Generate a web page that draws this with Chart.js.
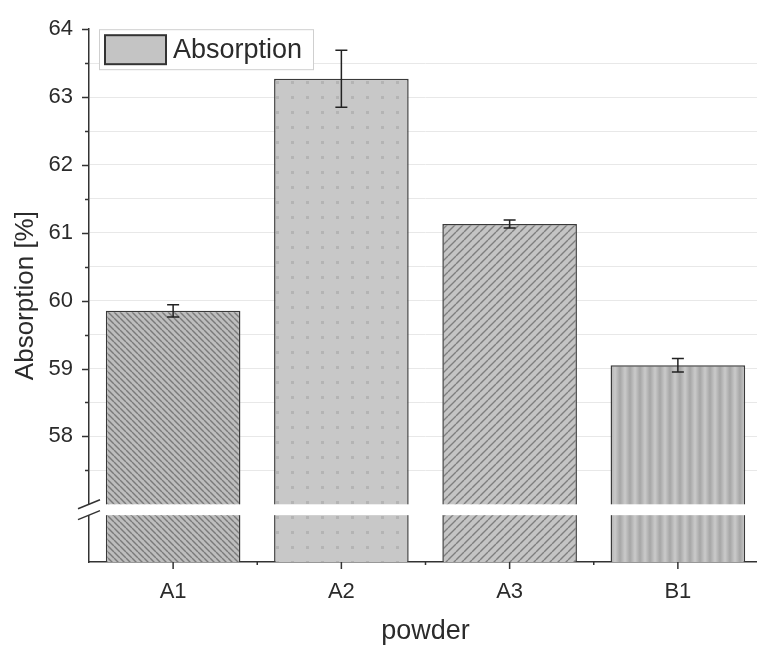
<!DOCTYPE html>
<html lang="en">
<head>
<meta charset="UTF-8">
<title>Absorption by powder</title>
<script src="https://cdn.jsdelivr.net/npm/chart.js"></script>
<style>
  html, body { margin: 0; padding: 0; overflow: hidden; background: #fff; }
  canvas { display: block; }
</style>
</head>
<body>
<canvas id="absorptionChart" width="762" height="651"></canvas>
<script>
  // Absorption per powder with its standard deviation
  const powders = ['A1', 'A2', 'A3', 'B1'];
  const absorption = [59.85, 63.27, 61.13, 59.05];
  const absorptionErr = [0.09, 0.42, 0.06, 0.10];

  // y axis: labelled at whole numbers, minor ticks at the halves
  const yTicks = [57.5, 58, 58.5, 59, 59.5, 60, 60.5, 61, 61.5, 62, 62.5, 63, 63.5, 64];
  const yRange = [56.15, 64];
  // axis break drawn between these two values
  const axisBreak = [56.84, 57.0];

  const FONT = '"Liberation Sans", Arial, sans-serif';
  const TEXT = '#2b2b2b';

  // fill patterns, one per bar
  function pattern(size, bg, draw) {
    const c = document.createElement('canvas');
    c.width = size; c.height = size;
    const g = c.getContext('2d');
    g.fillStyle = bg;
    g.fillRect(0, 0, size, size);
    draw(g, size);
    return c;
  }
  function diagonal(size, bg, fg, back) {
    return pattern(size, bg, (g, s) => {
      g.strokeStyle = fg;
      g.lineWidth = 1.4;
      g.beginPath();
      for (const o of [-s, 0, s]) {
        if (back) { g.moveTo(o, 0); g.lineTo(o + s, s); }
        else { g.moveTo(o, s); g.lineTo(o + s, 0); }
      }
      g.stroke();
    });
  }
  const tileA1 = diagonal(6, '#bdbdbd', '#7a7a7a', true);
  const tileA2 = pattern(15, '#c8c8c8', (g) => {
    g.fillStyle = '#b4b4b4';
    g.fillRect(6, 6, 3, 3);
  });
  const tileA3 = diagonal(8, '#c4c4c4', '#7e7e7e', false);
  const tileB1 = pattern(10, '#b5b5b5', (g, s) => {
    const grad = g.createLinearGradient(0, 0, s, 0);
    grad.addColorStop(0, '#a6a6a6');
    grad.addColorStop(0.5, '#cacaca');
    grad.addColorStop(1, '#a6a6a6');
    g.fillStyle = grad;
    g.fillRect(0, 0, s, s);
  });

  const ctx = document.getElementById('absorptionChart').getContext('2d');
  const fills = [tileA1, tileA2, tileA3, tileB1].map(t => ctx.createPattern(t, 'repeat'));

  // error bars, tick marks, axis break and the framed legend
  const extras = {
    id: 'extras',
    afterDatasetsDraw(chart) {
      const { ctx, scales: { y } } = chart;
      const meta = chart.getDatasetMeta(0);
      ctx.save();
      ctx.strokeStyle = '#222';
      ctx.lineWidth = 1.5;
      meta.data.forEach((bar, i) => {
        const cx = bar.x;
        const top = y.getPixelForValue(absorption[i] + absorptionErr[i]);
        const bot = y.getPixelForValue(absorption[i] - absorptionErr[i]);
        ctx.beginPath();
        ctx.moveTo(cx, top); ctx.lineTo(cx, bot);
        ctx.moveTo(cx - 6, top); ctx.lineTo(cx + 6, top);
        ctx.moveTo(cx - 6, bot); ctx.lineTo(cx + 6, bot);
        ctx.stroke();
      });
      ctx.restore();
    },
    afterDraw(chart) {
      const { ctx, chartArea: a, scales: { x, y } } = chart;
      ctx.save();
      ctx.strokeStyle = '#333';
      ctx.lineWidth = 1.5;
      ctx.beginPath();
      yTicks.forEach(v => {
        const py = Math.round(y.getPixelForValue(v)) + 0.5;
        const len = Number.isInteger(v) ? 7 : 4;
        ctx.moveTo(a.left, py); ctx.lineTo(a.left - len, py);
      });
      powders.forEach((p, i) => {
        const px = x.getPixelForValue(i);
        ctx.moveTo(px, a.bottom); ctx.lineTo(px, a.bottom + 7);
        if (i > 0) {
          const bx = (px + x.getPixelForValue(i - 1)) / 2;
          ctx.moveTo(bx, a.bottom); ctx.lineTo(bx, a.bottom + 3);
        }
      });
      ctx.stroke();

      // axis break
      const b0 = y.getPixelForValue(axisBreak[1]);
      const b1 = y.getPixelForValue(axisBreak[0]);
      ctx.fillStyle = '#fff';
      ctx.fillRect(a.left - 3, b0, a.right - a.left + 3, b1 - b0);
      ctx.beginPath();
      [b0, b1].forEach(by => {
        ctx.moveTo(a.left - 11, by + 4.5);
        ctx.lineTo(a.left + 11, by - 4.5);
      });
      ctx.stroke();

      // legend
      const lx = a.left + 10, ly = a.top, lw = 214, lh = 40;
      ctx.fillStyle = '#fff';
      ctx.fillRect(lx, ly, lw, lh);
      ctx.strokeStyle = '#cfcfcf';
      ctx.lineWidth = 1;
      ctx.strokeRect(lx + 0.5, ly + 0.5, lw, lh);
      ctx.fillStyle = '#c4c4c4';
      ctx.fillRect(lx + 6, ly + 6, 61, 29);
      ctx.strokeStyle = '#333';
      ctx.lineWidth = 2;
      ctx.strokeRect(lx + 6, ly + 6, 61, 29);
      ctx.fillStyle = TEXT;
      ctx.font = '27px ' + FONT;
      ctx.textBaseline = 'middle';
      ctx.fillText(chart.data.datasets[0].label, lx + 74, ly + lh / 2 + 1);
      ctx.restore();
    }
  };

  new Chart(ctx, {
    type: 'bar',
    data: {
      labels: powders,
      datasets: [{
        label: 'Absorption',
        data: absorption,
        backgroundColor: fills,
        borderColor: '#3a3a3a',
        borderWidth: 1.5,
        categoryPercentage: 1,
        barPercentage: 0.8
      }]
    },
    options: {
      responsive: false,
      animation: false,
      layout: { padding: { top: 20, right: 0, left: 0, bottom: 0 } },
      plugins: { legend: { display: false }, tooltip: { enabled: false } },
      scales: {
        x: {
          grid: { display: false, drawTicks: false },
          border: { display: true, color: '#333', width: 1.5 },
          ticks: { color: TEXT, padding: 17, font: { family: FONT, size: 22 } },
          title: { display: true, text: 'powder', color: TEXT, padding: { top: 0, bottom: 3 }, font: { family: FONT, size: 27 } },
          afterFit(s) { s.height = 89; }
        },
        y: {
          min: yRange[0],
          max: yRange[1],
          afterBuildTicks(s) { s.ticks = yTicks.map(v => ({ value: v })); },
          grid: {
            drawTicks: false,
            color: c => (c.tick && c.tick.value === 64) ? 'rgba(0,0,0,0)' : '#e8e8e8',
            lineWidth: 1
          },
          border: { display: true, color: '#333', width: 1.5 },
          ticks: {
            color: TEXT,
            padding: 16,
            font: { family: FONT, size: 22 },
            callback: v => Number.isInteger(v) ? String(v) : ''
          },
          title: { display: true, text: 'Absorption [%]', color: TEXT, padding: { top: 10, bottom: 0 }, font: { family: FONT, size: 26 } },
          afterFit(s) { s.width = 89; }
        }
      }
    },
    plugins: [extras]
  });
</script>
</body>
</html>
